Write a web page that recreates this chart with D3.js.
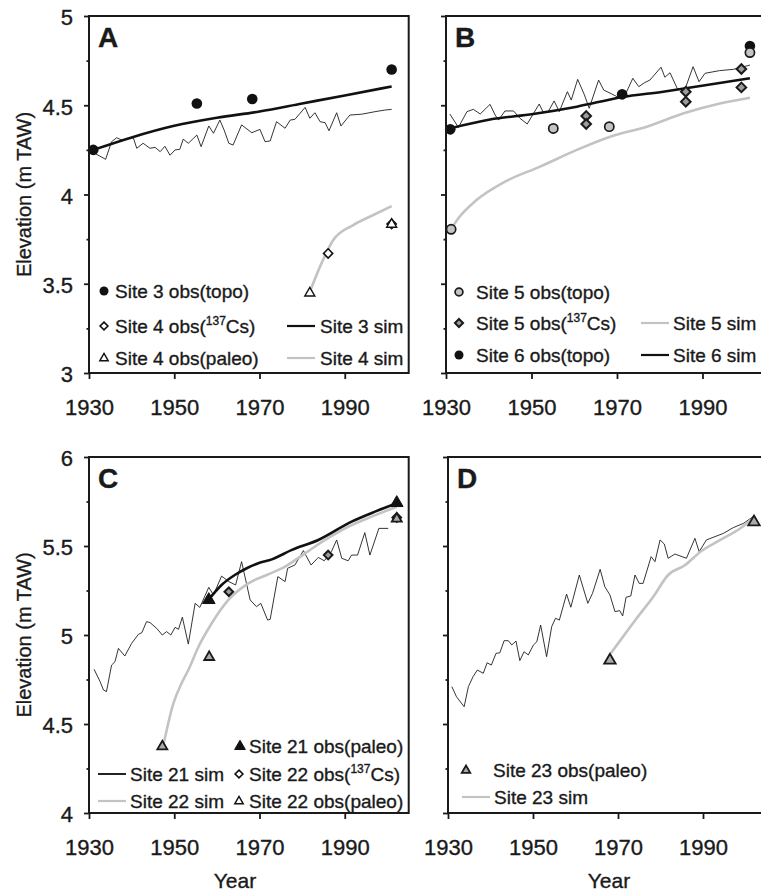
<!DOCTYPE html>
<html>
<head>
<meta charset="utf-8">
<script src="https://cdn.jsdelivr.net/npm/d3@7"></script>
<style>
  body { margin: 0; background: #fff; }
  svg { display: block; font-family: "Liberation Sans", Arial, Helvetica, sans-serif; }
  svg text { stroke: #1a1a1a; stroke-width: 0.35; }
</style>
</head>
<body>
<svg id="chart" width="761" height="895"></svg>
<script>
// ---- data: [year, elevation (m TAW)] ----
const yearTicks = [1930, 1950, 1970, 1990];
const elevTicksAB = [3, 3.5, 4, 4.5, 5];
const elevMinorAB = [3.25, 3.75, 4.25, 4.75];
const elevTicksCD = [4, 4.5, 5, 5.5, 6];
const elevMinorCD = [4.25, 4.75, 5.25, 5.75];

// panel A
const mhtA = [[1931.4,4.23],[1933.9,4.197],[1935.3,4.296],[1936.5,4.318],[1937.7,4.305],[1940.4,4.318],
  [1941.2,4.259],[1942.7,4.287],[1944.3,4.259],[1945.5,4.264],[1946.7,4.24],[1947.8,4.27],[1949,4.22],
  [1950.2,4.25],[1951.3,4.253],[1952.1,4.31],[1953.3,4.287],[1955.3,4.333],[1956.3,4.268],[1958.1,4.384],
  [1959.2,4.343],[1960.7,4.417],[1961.7,4.361],[1962.8,4.287],[1963.8,4.277],[1965.8,4.39],[1968.2,4.346],
  [1970.1,4.365],[1971.3,4.296],[1972.5,4.3],[1974,4.408],[1976,4.371],[1977.2,4.417],[1978.3,4.421],
  [1980.7,4.488],[1981.8,4.427],[1983,4.458],[1984.2,4.408],[1985.4,4.402],[1986.3,4.357],[1988.1,4.458],
  [1989.1,4.384],[1991.2,4.445],[1994,4.45],[1997.1,4.464],[1999.4,4.473],[2001,4.477]];
const site3Sim = [[1931,4.25],[1940,4.32],[1950,4.385],[1960,4.43],[1970,4.465],[1980,4.51],[1990,4.555],[2001,4.605]];
const site3Topo = [[1931,4.25],[1955.3,4.51],[1968.3,4.535],[2001,4.70]];
const site4Sim = [[1981.9,3.46],[1984.2,3.596],[1987.3,3.745],[1992,3.829],[1996.7,3.885],[2001,3.935]];
const site4Cs = [[1986.1,3.67],[2001,3.835]];
const site4Paleo = [[1981.8,3.45],[2001,3.835]];

// panel B
const mhtB = [[1930.9,4.451],[1932.9,4.376],[1934.9,4.464],[1936.4,4.477],[1938,4.451],[1940.3,4.505],
  [1941.5,4.445],[1942.3,4.417],[1943.8,4.468],[1945.8,4.468],[1947.3,4.427],[1949,4.395],[1950.4,4.451],
  [1951.8,4.507],[1952.8,4.458],[1953.9,4.464],[1955.3,4.524],[1956.5,4.464],[1958.4,4.576],[1959.3,4.529],
  [1960.8,4.645],[1962.4,4.557],[1963.5,4.483],[1965.7,4.641],[1966.9,4.585],[1968.8,4.563],[1970,4.548],
  [1971.9,4.557],[1973.7,4.651],[1975.1,4.604],[1976.4,4.626],[1977.7,4.641],[1980.3,4.713],[1981.2,4.657],
  [1982.4,4.682],[1984.2,4.589],[1985.9,4.589],[1987.8,4.716],[1989.2,4.632],[1990.6,4.679],[1994,4.694],
  [1997.2,4.701],[2001.1,4.725]];
const site6Sim = [[1930.9,4.37],[1940.3,4.42],[1950.4,4.451],[1960.6,4.492],[1971.1,4.545],[1980.8,4.576],[1991,4.613],[2001.1,4.651]];
const site5Sim = [[1931.3,3.81],[1932.9,3.867],[1937.2,3.97],[1943.8,4.072],[1952,4.156],[1960.6,4.25],
  [1968.4,4.324],[1977,4.38],[1985.6,4.455],[1994.1,4.51],[2001.1,4.542]];
const site6Topo = [[1931,4.365],[1971.2,4.561],[2001.1,4.832]];
const site5Topo = [[1931.2,3.805],[1955.1,4.37],[1968.2,4.38],[2001.1,4.795]];
const site5Cs = [[1962.8,4.44],[1962.8,4.395],[1986.1,4.576],[1986.1,4.52],[1999.1,4.703],[1999.1,4.6]];

// panel C
const mhtC = [[1931.2,4.807],[1932.6,4.738],[1933.4,4.691],[1934.1,4.682],[1935.3,4.831],[1936.1,4.85],
  [1936.9,4.925],[1938.4,4.882],[1940,4.953],[1941.6,5.004],[1942.4,5.013],[1943.5,5.075],[1944.3,5.07],
  [1945.9,5.037],[1947.2,5.0],[1948.2,5.019],[1949.2,5.0],[1950.2,5.043],[1951,5.032],[1951.9,5.1],
  [1953.3,4.949],[1954.9,5.178],[1956,5.155],[1958.1,5.268],[1959.2,5.225],[1961.1,5.331],[1962.8,5.3],
  [1964.4,5.281],[1965.8,5.412],[1967.8,5.197],[1969.3,5.159],[1970.3,5.178],[1971.9,5.084],[1972.5,5.088],
  [1974.3,5.328],[1976,5.3],[1976.6,5.375],[1978.3,5.393],[1980.3,5.474],[1982.1,5.393],[1983.8,5.436],
  [1985.2,5.417],[1986.9,5.47],[1988.1,5.534],[1989.3,5.431],[1990.8,5.417],[1991.6,5.449],[1993,5.449],
  [1994.7,5.575],[1995.9,5.449],[1998,5.599],[2000.2,5.599]];
const site22Sim = [[1947.4,4.376],[1949.8,4.616],[1951.7,4.728],[1953.3,4.803],[1955.6,4.93],[1958.8,5.066],
  [1962.7,5.197],[1967.4,5.29],[1971.7,5.337],[1976,5.384],[1980.7,5.459],[1985.4,5.534],[1990.8,5.608],
  [1996.3,5.665],[2002.2,5.72]];
const site21Sim = [[1958.1,5.2],[1961.1,5.281],[1964.2,5.337],[1967,5.375],[1969.7,5.403],[1972.9,5.425],
  [1977.6,5.478],[1983.8,5.534],[1991.6,5.637],[1997.1,5.693],[2002.2,5.74]];
const site21Paleo = [[1958.1,5.2],[2002.2,5.745]];
const site22Cs = [[1962.8,5.243],[1986.1,5.449],[2002.2,5.66]];
const site22Paleo = [[1947.2,4.376],[1958.2,4.878],[2002.2,5.655]];

// panel D
const mhtD = [[1930.9,4.71],[1932,4.653],[1933.8,4.597],[1934.8,4.71],[1935.9,4.766],[1936.9,4.803],
  [1938.3,4.785],[1939.2,4.844],[1940.2,4.831],[1941.3,4.897],[1942.2,4.9],[1943.2,4.968],[1944.2,4.968],
  [1945,4.944],[1946,4.966],[1946.9,4.856],[1947.9,4.906],[1948.9,4.888],[1950.1,4.944],[1950.9,4.962],
  [1951.8,5.056],[1953.2,4.878],[1954.4,5.047],[1955.3,5.094],[1956.2,5.084],[1957.9,5.23],[1958.9,5.156],
  [1960.9,5.337],[1962.9,5.178],[1964,5.234],[1965.8,5.369],[1966.9,5.271],[1968.1,5.225],[1969.3,5.131],
  [1970.4,5.137],[1971.1,5.107],[1971.9,5.212],[1973,5.219],[1974,5.337],[1975,5.29],[1975.9,5.29],
  [1977.8,5.44],[1978.7,5.412],[1979.9,5.534],[1980.9,5.511],[1981.8,5.431],[1983.4,5.455],[1986.1,5.431],
  [1988.1,5.543],[1989.1,5.468],[1990.8,5.534],[1994.8,5.571],[1997.1,5.603],[1999.5,5.627],[2001.8,5.665]];
const site23Sim = [[1968.3,4.897],[1970.9,4.981],[1974.4,5.094],[1978.3,5.215],[1981.8,5.337],[1985.8,5.393],
  [1989.4,5.468],[1994.1,5.534],[1998.8,5.6],[2001.8,5.656]];
const site23Paleo = [[1968.1,4.86],[2002,5.637]];

const legendA = ["Site 3 obs(topo)", "Site 4 obs(^137^Cs)", "Site 4 obs(paleo)", "Site 3 sim", "Site 4 sim"];
const legendB = ["Site 5 obs(topo)", "Site 5 obs(^137^Cs)", "Site 6 obs(topo)", "Site 5 sim", "Site 6 sim"];
const legendC = ["Site 21 obs(paleo)", "Site 21 sim", "Site 22 obs(^137^Cs)", "Site 22 sim", "Site 22 obs(paleo)"];
const legendD = ["Site 23 obs(paleo)", "Site 23 sim"];

// ---- styles ----
const INK = "#1a1a1a";
const thin = { stroke: "#1e1e1e", width: 0.9 };
const blackSim = { stroke: "#111", width: 2.6, smooth: true };
const graySim = { stroke: "#c3c3c3", width: 2.6, smooth: true };

const blackDot = { shape: "circle", s: 5.3, fill: "#111", stroke: "none", sw: 0 };
const grayDot = { shape: "circle", s: 4.6, fill: "#c4c4c4", stroke: INK, sw: 1.7 };
const whiteDiamond = { shape: "diamond", s: 4.6, fill: "#fff", stroke: "#111", sw: 1.6 };
const grayDiamond = { shape: "diamond", s: 4.8, fill: "#9c9c9c", stroke: INK, sw: 2 };
const whiteTri = { shape: "triangle", s: 5, fill: "#fff", stroke: "#111", sw: 1.4 };
const grayTri = { shape: "triangle", s: 5, fill: "#ababab", stroke: INK, sw: 1.8 };
const blackTri = { shape: "triangle", s: 6.3, fill: "#111", stroke: "#111", sw: 1 };

function symbolPath(m, k = 1) {
  const s = m.s * k;
  if (m.shape === "circle") return d3.symbol(d3.symbolCircle, Math.PI * s * s)();
  if (m.shape === "diamond") return `M0,${-s}L${s},0L0,${s}L${-s},0Z`;
  const h = s * 1.73;
  return `M0,${-h * 0.62}L${s},${h * 0.38}L${-s},${h * 0.38}Z`;
}

const svg = d3.select("#chart");

const panels = [
  { letter: "A", left: 89, top: 16, width: 319.7, height: 357, yTicks: elevTicksAB, yMinor: elevMinorAB,
    yLabels: true,
    lines: [[mhtA, thin], [site3Sim, blackSim], [site4Sim, graySim]],
    points: [[site3Topo, blackDot], [site4Cs, whiteDiamond], [site4Paleo, whiteTri]],
    legend: [
      { x: 104, tx: 115, y: 291, mark: blackDot, label: legendA[0] },
      { x: 104, tx: 115, y: 326, mark: whiteDiamond, label: legendA[1] },
      { x: 104, tx: 115, y: 358, mark: whiteTri, label: legendA[2] },
      { x: 287, tx: 320, y: 326, line: blackSim, label: legendA[3] },
      { x: 287, tx: 320, y: 358, line: graySim, label: legendA[4] }] },
  { letter: "B", left: 446, top: 16, width: 320.6, height: 357, yTicks: elevTicksAB, yMinor: elevMinorAB,
    yLabels: false,
    lines: [[mhtB, thin], [site5Sim, graySim], [site6Sim, blackSim]],
    points: [[site5Cs, grayDiamond], [site6Topo, blackDot], [site5Topo, grayDot]],
    legend: [
      { x: 459, tx: 476, y: 292, mark: grayDot, label: legendB[0] },
      { x: 459, tx: 476, y: 323, mark: grayDiamond, label: legendB[1] },
      { x: 459, tx: 476, y: 355, mark: blackDot, label: legendB[2] },
      { x: 641, tx: 673, y: 323, line: graySim, label: legendB[3] },
      { x: 641, tx: 673, y: 355, line: blackSim, label: legendB[4] }] },
  { letter: "C", left: 89, top: 457, width: 319.7, height: 356, yTicks: elevTicksCD, yMinor: elevMinorCD,
    yLabels: true,
    lines: [[mhtC, thin], [site22Sim, graySim], [site21Sim, blackSim]],
    points: [[site22Cs, grayDiamond, 0.9], [site22Paleo, grayTri], [site21Paleo, blackTri]],
    legend: [
      { x: 240, tx: 249, y: 746, mark: blackTri, label: legendC[0] },
      { x: 98, tx: 130, y: 774, line: { stroke: "#222", width: 2 }, label: legendC[1] },
      { x: 239, tx: 249, y: 774, mark: whiteDiamond, label: legendC[2] },
      { x: 98, tx: 130, y: 801, line: graySim, label: legendC[3] },
      { x: 239, tx: 249, y: 801, mark: whiteTri, label: legendC[4] }] },
  { letter: "D", left: 448, top: 457, width: 318.75, height: 356, yTicks: elevTicksCD, yMinor: elevMinorCD,
    yLabels: false,
    lines: [[mhtD, thin], [site23Sim, graySim]],
    points: [[site23Paleo, grayTri, 1.15]],
    legend: [
      { x: 466, tx: 493, y: 770, mark: grayTri, label: legendD[0] },
      { x: 462, tx: 494, y: 797, line: graySim, label: legendD[1] }] },
];

// "^137^" marks a superscript run inside a legend label
function addLabel(sel, label) {
  let raised = false;
  label.split("^").forEach((part, i) => {
    if (!part) return;
    const ts = sel.append("tspan").text(part);
    if (i % 2 === 1) {
      ts.attr("font-size", 12).attr("dy", -8);
      raised = true;
    } else if (raised) {
      ts.attr("dy", 8);
      raised = false;
    }
  });
}

panels.forEach(p => {
  const g = svg.append("g").attr("transform", `translate(${p.left},${p.top})`);
  const x = d3.scaleLinear().domain([1930, 2005]).range([0, p.width]);
  const y = d3.scaleLinear().domain([p.yTicks[0], p.yTicks[p.yTicks.length - 1]]).range([p.height, 0]);

  // series
  p.lines.forEach(([data, st]) => {
    const line = d3.line().x(d => x(d[0])).y(d => y(d[1]))
      .curve(st.smooth ? d3.curveMonotoneX : d3.curveLinear);
    g.append("path").datum(data).attr("d", line)
      .attr("fill", "none").attr("stroke", st.stroke).attr("stroke-width", st.width)
      .attr("stroke-linejoin", "round");
  });
  p.points.forEach(([data, m, k]) => {
    g.append("g").selectAll("path").data(data).join("path")
      .attr("transform", d => `translate(${x(d[0])},${y(d[1])})`)
      .attr("d", symbolPath(m, k || 1))
      .attr("fill", m.fill).attr("stroke", m.stroke).attr("stroke-width", m.sw);
  });

  // frame
  g.append("rect").attr("width", p.width).attr("height", p.height)
    .attr("fill", "none").attr("stroke", INK).attr("stroke-width", 2);

  // axes
  const xAxis = g.append("g").attr("transform", `translate(0,${p.height})`)
    .call(d3.axisBottom(x).tickValues(yearTicks).tickSize(6).tickPadding(20).tickFormat(d3.format("d")));
  const yAxis = g.append("g")
    .call(d3.axisLeft(y).tickValues(p.yTicks).tickSize(5).tickPadding(11)
      .tickFormat(p.yLabels ? (d => d) : ""));
  const yMinor = g.append("g")
    .call(d3.axisLeft(y).tickValues(p.yMinor).tickSize(2.5).tickFormat(""));
  [xAxis, yAxis, yMinor].forEach(a => {
    a.select(".domain").remove();
    a.selectAll("line").attr("stroke", INK).attr("stroke-width", 1.8);
    a.selectAll("text").attr("font-size", 22).attr("fill", INK).attr("font-family", null);
  });
  yAxis.selectAll("text").attr("dy", "0.4em");

  g.append("text").attr("x", 9).attr("y", 31).attr("font-size", 28).attr("font-weight", "bold")
    .attr("fill", INK).text(p.letter);

  // legend
  p.legend.forEach(it => {
    if (it.mark) {
      svg.append("path").attr("transform", `translate(${it.x},${it.y})`)
        .attr("d", symbolPath(it.mark, 0.85))
        .attr("fill", it.mark.fill).attr("stroke", it.mark.stroke).attr("stroke-width", it.mark.sw);
    } else {
      svg.append("line").attr("x1", it.x).attr("x2", it.x + 28).attr("y1", it.y).attr("y2", it.y)
        .attr("stroke", it.line.stroke).attr("stroke-width", Math.min(it.line.width, 2.2));
    }
    const t = svg.append("text").attr("x", it.tx).attr("y", it.y + 7)
      .attr("font-size", 19).attr("fill", INK);
    addLabel(t, it.label);
  });
});

// axis titles
[16 + 357 / 2, 457 + 356 / 2].forEach(cy => {
  svg.append("text").attr("transform", `translate(31,${cy}) rotate(-90)`)
    .attr("text-anchor", "middle").attr("font-size", 20).attr("fill", INK).text("Elevation (m TAW)");
});
[235, 609].forEach(cx => {
  svg.append("text").attr("x", cx).attr("y", 888).attr("text-anchor", "middle")
    .attr("font-size", 21).attr("fill", INK).text("Year");
});
</script>
</body>
</html>
